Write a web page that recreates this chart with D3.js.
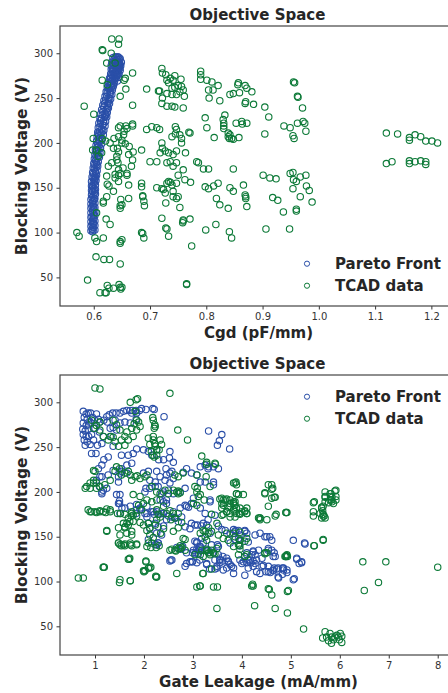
<!DOCTYPE html>
<html>
<head>
<meta charset="utf-8">
<script src="https://d3js.org/d3.v7.min.js"></script>
<style>
  body { margin: 0; background: #fff; }
  text { font-family: "DejaVu Sans", sans-serif; }
</style>
</head>
<body>
<div id="chart-area"></div>
<script>
// ---- data: top panel (Cgd vs blocking voltage) ----
var cgdPareto = [
  [0.598,101],[0.597,104],[0.599,106],[0.597,109],[0.599,111],[0.598,114],[0.600,116],[0.597,118],[0.599,121],[0.598,124],
  [0.600,126],[0.597,129],[0.599,131],[0.598,134],[0.600,136],[0.597,139],[0.599,141],[0.601,144],[0.598,146],[0.600,149],
  [0.598,151],[0.600,154],[0.599,156],[0.601,159],[0.599,161],[0.602,163],[0.600,166],[0.603,168],[0.601,171],[0.604,173],
  [0.602,176],[0.605,178],[0.603,180],[0.606,183],[0.604,185],[0.607,188],[0.605,190],[0.608,192],[0.606,195],[0.609,197],
  [0.607,199],[0.610,202],[0.608,204],[0.611,206],[0.609,208],[0.613,211],[0.610,213],[0.614,215],[0.611,218],[0.616,220],
  [0.612,222],[0.617,224],[0.614,227],[0.619,229],[0.615,231],[0.620,233],[0.616,235],[0.622,237],[0.618,240],[0.624,242],
  [0.619,244],[0.626,246],[0.621,248],[0.627,250],[0.623,252],[0.629,254],[0.624,256],[0.630,258],[0.626,260],[0.631,262],
  [0.627,264],[0.632,266],[0.629,268],[0.634,270],[0.630,272],[0.636,274],[0.632,276],[0.638,278],[0.633,280],[0.640,281],
  [0.635,283],[0.642,284],[0.636,286],[0.643,287],[0.638,289],[0.644,290],[0.639,292],[0.642,293],[0.640,295],[0.645,293],
  [0.646,289],[0.645,285],[0.644,281],[0.641,277],[0.643,276],[0.638,272],[0.622,232],[0.625,244],[0.612,225],[0.608,210],
  [0.595,102],[0.602,103],[0.595,107],[0.602,108],[0.595,112],[0.602,113],[0.595,117],[0.602,119],[0.595,122],[0.602,123],
  [0.595,127],[0.602,128],[0.595,132],[0.602,133],[0.595,137],[0.602,138],[0.596,142],[0.603,143],[0.596,147],[0.603,148],
  [0.596,152],[0.603,153],[0.596,157],[0.604,158],[0.597,162],[0.605,164],[0.598,167],[0.606,169],[0.599,172],[0.607,174],
  [0.600,177],[0.608,179],[0.601,182],[0.610,184],[0.602,187],[0.611,189],[0.603,192],[0.612,194],[0.604,197],[0.614,199],
  [0.605,202],[0.615,204],[0.606,207],[0.617,209],[0.607,212],[0.618,214],[0.608,217],[0.620,219],[0.609,222],[0.621,224],
  [0.611,227],[0.623,229],[0.612,232],[0.624,234],[0.614,237],[0.626,239],[0.616,242],[0.628,244],[0.618,247],[0.630,249],
  [0.620,252],[0.632,254],[0.622,257],[0.633,259],[0.624,262],[0.635,264],[0.626,267],[0.637,269],[0.628,272],[0.640,273],
  [0.630,277],[0.643,278],[0.631,282],[0.646,283],[0.634,288],[0.647,287],[0.636,293],[0.645,295],
  [0.634,295],[0.638,296],[0.643,296],[0.647,294],[0.632,290],[0.637,291],[0.641,289],[0.645,288],[0.649,290],[0.631,286],
  [0.635,288],[0.640,285],[0.644,284],[0.648,286],[0.633,282],[0.638,283],[0.642,281],[0.647,281],[0.635,278],[0.640,279],
  [0.645,277],[0.634,274],[0.639,275],[0.644,273],[0.632,270],[0.637,271],[0.642,269],[0.630,265],[0.636,266],[0.628,261],
  [0.634,262],
  [0.599,103],[0.600,110],[0.600,119],[0.600,128],[0.601,138],[0.601,147],[0.602,156],[0.603,161],[0.604,166],[0.606,176],
  [0.609,186],[0.611,195],[0.613,203],[0.616,213],[0.618,222],[0.621,230],[0.624,238],[0.627,248],[0.629,256]
];

var cgdTcad = [
  [0.583,241],[0.600,232],[0.615,304],[0.616,303],[0.632,316],[0.645,316],[0.644,310],[0.631,300],[0.623,289],[0.638,289],
  [0.615,270],[0.624,265],[0.669,278],[0.654,270],[0.656,272],[0.657,260],[0.669,242],[0.647,252],[0.598,192],[0.599,205],
  [0.615,205],[0.685,192],[0.694,260],[0.715,258],
  [0.721,283],[0.722,278],[0.728,276],[0.730,270],[0.736,272],[0.744,275],[0.741,270],[0.733,267],[0.739,261],[0.744,262],
  [0.750,264],[0.756,263],[0.759,259],[0.761,252],[0.753,257],[0.747,254],[0.739,254],[0.730,255],[0.722,250],[0.721,244],
  [0.730,241],[0.739,241],[0.744,240],[0.759,239],[0.755,271],[0.717,258],
  [0.790,280],[0.790,276],[0.790,271],[0.801,270],[0.810,268],[0.821,264],[0.812,259],[0.804,259],[0.805,250],[0.824,247],
  [0.842,254],[0.848,255],[0.857,267],[0.856,265],[0.859,256],[0.869,264],[0.872,261],[0.870,246],[0.869,244],[0.884,243],
  [0.881,257],
  [0.798,228],[0.801,217],[0.814,206],[0.830,226],[0.831,222],[0.831,219],[0.831,216],[0.839,211],[0.839,207],[0.841,205],
  [0.842,209],[0.845,205],[0.848,204],[0.858,206],[0.853,222],[0.863,224],[0.864,221],[0.872,222],[0.833,231],
  [0.904,240],[0.911,229],[0.904,210],[0.938,219],[0.949,217],[0.954,208],[0.956,205],[0.962,222],[0.972,224],[0.975,222],
  [0.977,213],[0.971,239],[0.955,268],[0.957,267],[0.962,252],[0.963,251],
  [1.120,211],[1.140,210],[1.161,206],[1.161,203],[1.171,209],[1.181,207],[1.190,202],[1.201,202],[1.211,200],
  [1.120,177],[1.130,179],[1.161,180],[1.161,177],[1.171,179],[1.181,180],[1.190,179],[1.190,176],
  [0.694,215],[0.703,218],[0.712,217],[0.717,215],[0.721,200],[0.722,194],[0.718,189],[0.727,191],[0.733,189],[0.741,187],
  [0.747,191],[0.763,189],[0.745,218],[0.747,215],[0.745,210],[0.739,207],[0.753,209],[0.756,205],[0.756,200],[0.769,212],
  [0.771,211],[0.736,179],[0.730,178],[0.741,174],[0.712,179],[0.700,179],[0.747,178],[0.759,170],[0.783,179],[0.786,178],
  [0.795,171],[0.804,171],[0.848,171],
  [0.570,100],[0.574,96],[0.589,47],[0.602,94],[0.605,90],[0.617,94],[0.604,73],[0.618,70],[0.628,70],[0.647,65],
  [0.611,33],[0.620,33],[0.622,33],[0.624,41],[0.627,38],[0.635,38],[0.645,42],[0.647,39],[0.648,37],[0.650,39],
  [0.765,43],[0.765,42],[0.647,90],[0.647,88],[0.650,92],[0.689,94],[0.685,100],[0.687,99],[0.733,96],[0.728,105],
  [0.730,104],[0.721,116],[0.759,114],[0.759,113],[0.758,111],[0.774,85],[0.771,115],[0.799,103],[0.817,109],[0.841,101],
  [0.845,94],[0.839,127],[0.824,131],[0.818,138],[0.869,142],[0.870,140],[0.870,138],[0.872,129],[0.848,146],[0.842,150],
  [0.821,155],[0.813,152],[0.804,149],[0.798,151],[0.866,153],[0.901,164],[0.913,161],[0.924,160],[0.906,104],[0.948,104],
  [0.918,139],[0.927,136],[0.937,123],[0.960,126],[0.960,124],[0.954,149],[0.955,159],[0.960,157],[0.967,140],[0.978,152],
  [0.983,147],[0.988,134],[0.977,164],[0.967,162],[0.949,166],[0.954,167],
  [0.638,161],[0.644,157],[0.644,164],[0.659,164],[0.662,153],[0.648,137],[0.647,130],[0.647,127],[0.650,131],[0.662,138],
  [0.635,146],[0.617,135],[0.617,133],[0.623,140],[0.622,115],[0.629,109],[0.605,122],[0.624,154],[0.627,152],[0.685,155],
  [0.685,151],[0.687,141],[0.687,140],[0.689,135],[0.690,130],[0.712,150],[0.721,149],[0.724,148],[0.727,144],[0.728,133],
  [0.730,155],[0.733,157],[0.736,156],[0.741,146],[0.739,153],[0.747,155],[0.750,164],[0.741,140],[0.747,138],[0.750,140],
  [0.753,128],[0.762,159],[0.772,156],
  [0.641,185],[0.641,181],[0.643,178],[0.644,170],[0.652,172],[0.632,178],[0.626,174],[0.623,163],[0.638,165],[0.647,166],
  [0.659,166],[0.667,174],[0.669,181],[0.662,187],[0.670,190],[0.663,196],[0.656,199],[0.650,200],[0.642,194],[0.644,190],
  [0.635,194],[0.629,200],[0.621,202],[0.614,189],[0.605,192],[0.608,185],
  [0.644,217],[0.647,219],[0.657,219],[0.659,216],[0.669,219],[0.669,221],[0.653,209],[0.644,207],[0.636,205],[0.650,203],
  [0.654,213]
];

var cgdTicks = [0.6, 0.7, 0.8, 0.9, 1.0, 1.1, 1.2];

// ---- data: bottom panel (gate leakage vs blocking voltage) ----
var leakPareto = [
  [0.76,290],[0.82,287],[0.86,288],[0.91,288],[0.78,283],[0.84,281],[0.90,278],[0.76,277],[0.82,274],[0.87,275],
  [0.75,270],[0.80,268],[0.86,270],[0.76,264],[0.82,262],[0.87,262],[0.78,258],[0.84,256],[0.80,252],[0.90,253],
  [0.97,258],[0.93,264],[1.00,271],[0.95,283],[1.03,287],[0.99,280],[1.07,281],[1.09,267],[1.17,262],[1.14,254],
  [1.05,252],[1.02,243],[0.93,243],
  [1.10,278],[1.18,280],[1.24,284],[1.29,286],[1.36,288],[1.43,288],[1.51,288],[1.58,290],[1.65,291],[1.72,291],
  [1.77,291],[1.84,291],[1.91,291],[1.95,293],[1.75,288],[1.85,288],[2.04,292],[2.18,293],[2.21,292],[2.41,284],
  [1.31,271],[1.37,272],[1.44,269],[1.33,262],[1.25,278],[1.41,280],[1.51,277],[1.61,278],[1.72,277],[1.84,281],
  [1.37,251],[1.27,239],[1.18,236],[1.14,230],[1.07,226],[1.10,217],[1.03,213],[1.09,206],[1.14,200],[1.24,204],
  [1.54,241],[1.68,241],[1.78,243],[1.85,248],[1.75,232],[1.65,230],[1.54,226],[1.48,217],[1.48,211],[1.44,197],
  [1.48,187],[1.50,190],[1.61,182],[1.72,184],[1.85,186],[1.84,176],[1.92,180],[2.06,184],[2.19,178],[2.31,175],
  [1.99,221],[2.09,223],[2.12,213],[2.23,211],[2.26,223],[2.33,217],[2.43,213],[2.53,221],[2.45,226],[2.60,233],
  [2.52,238],[2.40,236],[2.30,236],[2.16,241],[2.09,245],[1.99,247],[2.26,247],[2.53,245],[2.04,204],[2.29,206],
  [2.40,200],[2.50,202],[2.60,198],[2.74,200],[2.84,204],[2.80,222],[2.87,226],[2.97,221],[3.08,219],[3.15,228],
  [3.25,230],[3.32,228],[3.32,268],[3.59,264],[3.54,257],[3.50,252],[3.75,248],[3.15,211],[3.42,211],[3.01,193],
  [2.97,187],[2.87,184],[2.74,182],[2.60,178],[3.15,182],[3.35,189],[3.25,176],[3.31,226],[3.42,228],[3.52,226],
  [2.06,176],[2.16,178],[2.21,175],[2.36,176],[2.50,173],[2.57,172],[2.65,171],[2.77,172],[2.40,162],[2.26,154],
  [2.36,152],[2.09,147],[2.29,143],[2.26,141],[2.55,124],[2.67,138],[2.74,136],[2.79,139],[2.87,132],[2.99,122],
  [3.08,121],[2.97,165],[3.09,163],[3.18,162],[3.21,165],[3.04,145],[3.08,143],[3.15,139],[3.21,143],[2.99,132],
  [3.06,132],[3.13,135],[3.08,136],[3.28,134],[3.42,132],[3.50,141],[3.45,124],[3.55,125],[3.55,121],[3.52,130],
  [3.61,128],[3.34,114],[3.49,115],[3.62,113],[3.69,115],[3.76,119],[3.72,122],[3.83,115],[3.83,109],[3.28,119],
  [3.28,163],[3.35,154],[3.52,162],[3.59,158],[3.76,143],[3.83,158],[3.88,157],[3.93,157],[3.96,152],[3.93,148],
  [3.86,147],[3.96,146],[3.95,140],[4.06,157],[4.10,154],[3.96,124],[4.03,122],[4.10,132],[4.13,124],[4.18,121],
  [4.23,134],[4.27,130],[4.30,124],[4.23,117],[4.30,111],[4.37,109],[4.44,118],[4.51,150],[4.54,111],[4.58,110],
  [4.66,115],[4.71,114],[4.83,115],[4.92,110],[4.75,104],[4.85,113],[4.92,113],[5.05,102],[5.07,103],[5.05,146],
  [5.12,126],[5.22,122],[5.28,143],[4.54,137],[4.66,132],[4.68,128],[4.06,107],[4.20,130],
  [1.14,217],[1.27,219],[1.37,224],[1.51,221],[1.54,223],[1.65,221],[1.14,198],[1.17,202],[1.51,197],[1.50,187],
  [1.55,182],[1.51,176],[1.85,180],[1.92,182],[2.02,176],[2.06,172],[2.09,165],[2.12,159],[2.23,165],[2.29,161],
  [2.26,178],[2.40,176],[2.46,169],[2.33,191],[2.40,189],[2.46,187],[2.36,198],[2.02,200],[2.12,204],[2.23,206],
  [2.46,219],[2.57,223],[2.60,215],[2.53,210],[2.46,191],[2.63,171],[2.84,185],[2.91,183],[2.94,159],[3.04,163],
  [2.84,161],[2.70,167],[3.08,144],[3.18,148],[3.01,135],[3.11,131],[3.14,124],[2.94,122],[2.84,117],[2.57,124],
  [3.25,211],[3.42,208],[3.35,191],[3.31,169],[3.45,174],[3.66,157],[3.76,154],[3.86,156],[4.06,156],[4.13,144],
  [4.27,152],[4.37,154],[4.47,150],[4.61,146],[4.34,135],[4.23,133],[4.06,128],[4.17,124],[4.00,120],[4.27,120],
  [3.69,126],[3.55,124],[3.79,117],[3.52,139],[3.38,141],[3.31,135],[3.49,117],[4.41,126],[4.54,117],[4.64,113],
  [4.57,150],[4.61,135],[5.29,142],[5.22,121],[4.85,115],
  [2.23,141],[2.29,143],[2.53,123],[2.87,120],[2.98,122],[3.04,131],[3.11,135],[3.14,139],[3.28,120],[3.45,114],
  [3.61,123],[3.72,123],[4.10,121],[4.13,115],[4.23,123],[4.41,117],[4.49,111],[4.64,112],[4.74,115],[4.83,108],
  [4.74,105],[5.12,125],[5.17,120],[4.54,135],[4.64,128]
];

var leakTcad = [
  [1.00,316],[1.10,315],[2.53,310],[1.72,300],[1.84,303],[1.87,304],[1.82,290],[2.69,269],[2.89,258],[3.18,240],
  [3.28,233],[3.28,231],[3.45,232],[3.46,231],
  [2.18,283],[2.19,280],[2.22,275],[2.23,273],[2.21,271],[2.19,262],[2.19,258],[2.22,254],[2.23,251],[2.26,247],
  [2.15,245],[2.18,241],[2.21,239],[2.26,241],[2.12,253],[2.09,260],[2.33,258],[2.36,253],[2.31,247],
  [1.80,276],[1.89,278],[1.92,273],[1.85,269],[1.78,262],[1.68,258],[1.61,262],[1.54,258],[1.61,252],[1.48,251],
  [1.41,256],[1.37,261],[1.31,262],[1.27,258],[1.17,262],[1.10,269],[1.03,274],[0.97,271],[0.93,280],[1.10,278],
  [1.44,275],[1.51,269],[1.65,267],[1.75,271],[1.85,280],[1.37,280],
  [0.97,224],[1.00,223],[0.97,213],[0.90,210],[0.80,204],[1.03,210],[1.10,206],[1.20,208],[1.31,213],[1.41,223],
  [1.44,228],[1.50,226],[1.54,219],[1.61,221],[1.68,223],[1.72,219],[1.75,213],[1.82,217],[1.86,218],[1.92,215],
  [2.02,217],[2.06,219],[2.16,206],[2.26,200],[2.33,198],[2.43,202],[2.50,198],[2.60,202],[2.67,200],[2.70,198],
  [3.04,206],[3.09,204],[3.27,217],[3.35,206],[3.15,197],[3.23,191],[2.33,172],[2.16,189],[1.92,195],[1.78,197],
  [1.99,187],[2.06,191],[2.26,191],[1.89,185],[1.95,180],[2.26,180],[2.40,184],[2.53,179],[2.60,176],[2.70,176],
  [3.55,192],[3.59,187],[3.62,191],[3.69,192],[3.76,187],[3.76,184],[3.83,189],[3.86,185],[3.83,180],[3.89,176],
  [3.96,182],[4.06,179],[4.10,176],[3.95,176],[3.59,182],[3.69,178],[3.83,210],[3.88,211],[3.89,198],[3.93,197],
  [4.47,199],[4.61,208],[4.63,204],[4.68,194],[4.54,184],[4.90,177],[5.46,188],[5.63,182],[5.66,184],[5.70,200],
  [5.70,195],[5.80,198],[5.81,195],[5.83,191],[5.90,201],[5.92,195],[5.92,191],[5.70,189],[5.77,188],[5.87,187],
  [5.60,176],[5.66,173],
  [0.66,104],[0.76,104],[1.19,116],[1.24,157],[1.50,99],[1.51,102],[1.72,101],[2.02,112],[2.00,111],[2.12,115],
  [2.14,116],[2.24,106],[2.26,105],[2.67,109],[3.08,94],[3.15,95],[3.42,94],[3.50,94],[3.49,70],[4.23,95],
  [4.22,97],[4.26,73],[4.54,92],[4.56,91],[4.61,85],[4.68,70],[4.93,89],[4.95,90],[4.93,65],[5.26,47],
  [5.48,140],[5.66,147],[6.47,122],[6.50,90],[6.94,122],[6.79,99],[8.00,116],
  [5.70,44],[5.73,38],[5.80,42],[5.83,38],[5.87,35],[5.94,40],[5.97,38],[6.01,42],[6.04,32],[6.04,39],
  [5.77,34],[5.90,38],[5.99,35],[5.65,37],[5.83,31],
  [0.90,178],[1.00,178],[1.10,178],[1.22,177],[1.31,178],[1.46,176],[1.52,176],[1.61,175],[1.68,171],[1.75,173],
  [1.85,173],[1.75,178],[1.78,167],[1.65,165],[1.61,160],[1.48,160],[1.51,152],[1.48,143],[1.54,140],[1.61,140],
  [1.72,143],[1.85,142],[1.75,152],[1.65,154],[1.75,156],[1.92,166],[1.99,163],[2.09,165],[2.12,160],[2.06,157],
  [2.12,152],[2.19,149],[2.16,143],[2.09,143],[2.06,139],[2.14,138],[2.25,138],[2.31,140],[2.34,154],[2.40,159],
  [2.23,163],[2.26,169],[2.29,175],[2.46,176],[2.55,169],[2.63,171],[2.77,166],[2.70,160],[2.60,156],[2.57,136],
  [2.65,134],[2.77,138],[2.84,147],[3.15,154],[3.25,156],[3.32,160],[3.38,175],[3.49,165],[3.62,175],[3.76,176],
  [3.86,178],[3.96,175],[4.10,176],[3.38,135],[3.42,132],[3.49,137],[3.32,132],[3.15,130],[3.21,128],[3.28,136],
  [3.69,154],[3.83,154],[3.96,155],[3.96,146],[3.96,136],[4.06,145],[4.37,169],[4.37,171],[4.51,169],[4.70,175],
  [4.92,177],[4.34,171],[4.47,132],[4.51,132],[4.90,128],[4.92,130],[4.93,128],[5.46,178],[5.66,175],[5.70,171],
  [0.83,206],[0.90,204],[0.97,210],[1.03,204],[0.86,180],[0.93,178],[1.03,177],[1.10,179],[1.17,178],[1.24,181],
  [1.31,180],[1.24,156],[1.58,165],[1.61,161],[1.68,163],[1.71,167],[1.48,143],[1.51,141],[1.61,142],[1.72,141],
  [1.85,141],[1.68,125],[1.71,126],[1.17,116],[2.04,123],[2.09,115],[1.78,174],[1.75,176],
  [2.63,219],[2.70,217],[2.80,221],[3.08,219],[2.70,201],[2.74,199],[3.08,200],[3.11,195],[3.01,187],[3.08,185],
  [3.86,210],[3.89,208],[3.59,193],[3.66,191],[3.76,191],[3.86,189],[3.83,187],[3.62,185],[3.72,183],[3.89,182],
  [3.69,178],[3.59,174],[3.76,172],[3.86,172],[4.00,178],[4.06,178],[4.10,182],[3.89,198],[4.03,197],[4.37,171],
  [4.47,198],[4.54,208],[4.61,193],[3.31,154],[3.38,156],[3.52,152],[3.62,148],[3.72,146],[3.86,150],[3.96,146],
  [4.10,148],[3.93,141],[3.83,139],[3.28,146],[3.25,150],[3.21,157],[2.74,137],[2.63,135],[2.53,135],[2.80,148],
  [3.18,135],[3.04,130],[2.84,135],[4.06,128],[3.35,132],
  [4.61,203],[4.66,194],[4.90,177],[4.68,173],[5.46,173],[5.48,189],[5.63,183],[5.65,179],[5.63,171],[5.68,173],
  [5.70,194],[5.82,198],[5.84,194],[5.84,189],[5.92,202],[5.80,191],[5.66,146],[5.47,140],[4.90,128],[4.91,129],
  [1.58,141],[1.75,140],[1.17,116],[1.72,101],[1.70,125],[1.99,112],[2.25,105],[2.04,122],[3.14,95],[3.21,109],
  [3.38,114],[3.20,109],[4.20,95],[4.47,131],[4.88,128],[3.96,140],[3.93,130],[4.10,130],[3.45,131],[3.35,130],
  [3.28,135],[2.70,137],[2.74,140]
];

var leakTicks = [1, 2, 3, 4, 5, 6, 7, 8];
var voltTicks = [50, 100, 150, 200, 250, 300];

var seriesNames = ["Pareto Front", "TCAD data"];
var seriesColors = ["#2a4fa8", "#0d7a38"];

var svg = d3.select("#chart-area").append("svg")
    .attr("width", 448)
    .attr("height", 693);

function drawPanel(opts) {
    var w = 395, h = 280;
    var g = svg.append("g")
        .attr("transform", "translate(" + opts.left + "," + opts.top + ")");

    var x = d3.scaleLinear().domain(opts.xDomain).range([0, w]);
    var y = d3.scaleLinear().domain(opts.yDomain).range([h, 0]);

    // axes
    var xAxis = d3.axisBottom(x)
        .tickValues(opts.xTicks)
        .tickFormat(opts.xFormat)
        .tickSize(3.5)
        .tickPadding(3.5);
    var yAxis = d3.axisLeft(y)
        .tickValues(voltTicks)
        .tickSize(3.5)
        .tickPadding(3.5);

    var gx = g.append("g").attr("transform", "translate(0," + h + ")").call(xAxis);
    var gy = g.append("g").call(yAxis);
    [gx, gy].forEach(function(a) {
        a.select(".domain").remove();
        a.selectAll("line").attr("stroke", "#333").attr("stroke-width", 1);
        a.selectAll("text")
            .attr("fill", "#333")
            .style("font-size", "10px")
            .style("font-family", "DejaVu Sans, sans-serif");
    });

    // points: pareto first, tcad on top
    [opts.pareto, opts.tcad].forEach(function(data, i) {
        g.append("g").selectAll("circle")
            .data(data)
            .enter()
            .append("circle")
            .attr("cx", function(d) { return x(d[0]); })
            .attr("cy", function(d) { return y(d[1]); })
            .attr("r", 3.2)
            .attr("fill", "none")
            .attr("stroke", seriesColors[i])
            .attr("stroke-width", 1.1);
    });

    // frame
    g.append("rect")
        .attr("width", w)
        .attr("height", h)
        .attr("fill", "none")
        .attr("stroke", "#444")
        .attr("stroke-width", 1.2);

    // title and labels
    g.append("text")
        .attr("x", w / 2)
        .attr("y", -6)
        .attr("text-anchor", "middle")
        .style("font-size", "15px")
        .style("font-weight", "bold")
        .attr("fill", "#262626")
        .text("Objective Space");

    g.append("text")
        .attr("x", w / 2 + 1)
        .attr("y", h + 32)
        .attr("text-anchor", "middle")
        .style("font-size", "15px")
        .style("font-weight", "bold")
        .attr("fill", "#262626")
        .text(opts.xLabel);

    g.append("text")
        .attr("transform", "translate(-33," + (h / 2) + ") rotate(-90)")
        .attr("text-anchor", "middle")
        .style("font-size", "15.5px")
        .style("font-weight", "bold")
        .attr("fill", "#262626")
        .text("Blocking Voltage (V)");

    // legend
    seriesNames.forEach(function(name, i) {
        var ly = opts.legendTop + i * 22;
        g.append("circle")
            .attr("cx", 247)
            .attr("cy", ly)
            .attr("r", 2.6)
            .attr("fill", "none")
            .attr("stroke", seriesColors[i])
            .attr("stroke-width", 1);
        g.append("text")
            .attr("x", 275)
            .attr("y", ly + 5)
            .style("font-size", "15px")
            .style("font-weight", "bold")
            .attr("fill", "#262626")
            .text(name);
    });
}

drawPanel({
    left: 60, top: 26,
    xDomain: [0.540, 1.242], yDomain: [18.1, 330.4],
    xTicks: cgdTicks, xFormat: d3.format(".1f"),
    pareto: cgdPareto, tcad: cgdTcad,
    xLabel: "Cgd (pF/mm)",
    legendTop: 237.7
});

drawPanel({
    left: 60, top: 375,
    xDomain: [0.285, 8.353], yDomain: [18, 330.5],
    xTicks: leakTicks, xFormat: d3.format("d"),
    pareto: leakPareto, tcad: leakTcad,
    xLabel: "Gate Leakage (mA/mm)",
    legendTop: 21.7
});
</script>
</body>
</html>
